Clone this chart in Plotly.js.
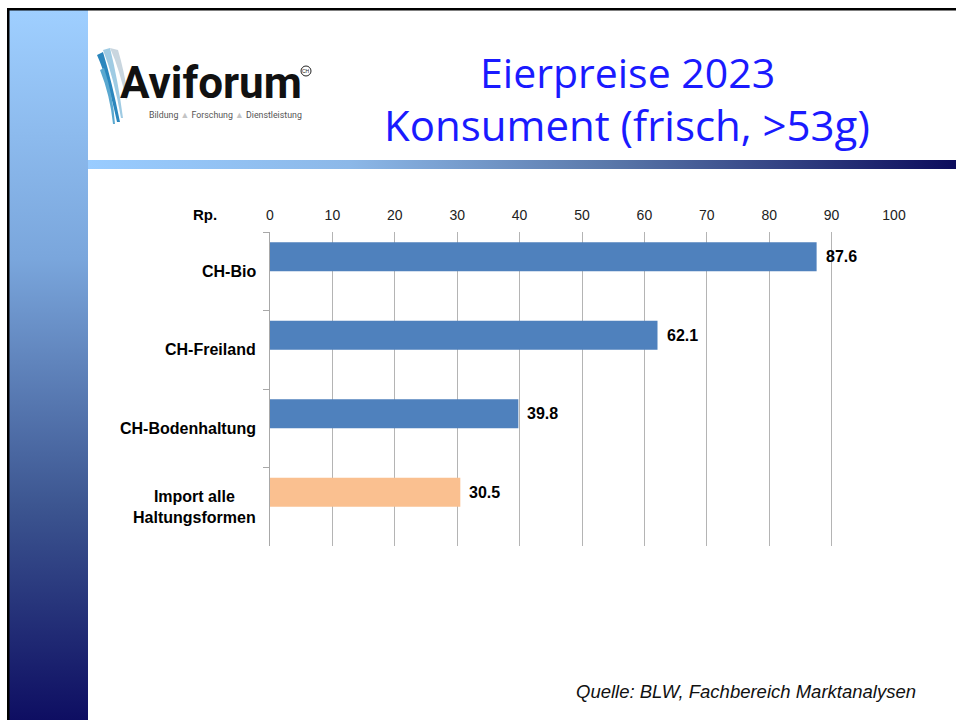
<!DOCTYPE html>
<html>
<head>
<meta charset="utf-8">
<script src="https://cdn.plot.ly/plotly-3.0.1.min.js"></script>
<style>
html,body{margin:0;padding:0;background:#fff;}
#chart{width:956px;height:720px;}
</style>
</head>
<body>
<div id="chart"></div>
<script>
// ---- data ----
const categories = ["CH-Bio", "CH-Freiland", "CH-Bodenhaltung", "Import alle Haltungsformen"];
const categoryLabels = ["CH-Bio", "CH-Freiland", "CH-Bodenhaltung", "Import alle<br>Haltungsformen"];
const prices = [87.6, 62.1, 39.8, 30.5];
const barColors = ["#4f81bd", "#4f81bd", "#4f81bd", "#fac090"];
const xTickVals = [0, 10, 20, 30, 40, 50, 60, 70, 80, 90, 100];
const titleLines = ["Eierpreise 2023", "Konsument (frisch, >53g)"];
const unitLabel = "Rp.";
const sourceText = "Quelle: BLW, Fachbereich Marktanalysen";

// ---- pixel helpers (plot area 270..894 x 232..546) ----
const L = 270, R = 894, T = 232, B = 546;
const px = x => (x - L) / (R - L);
const py = y => (B - y) / (B - T);
const pw = w => w / (R - L);
const ph = h => h / (B - T);

function svgURI(svg){ return 'data:image/svg+xml;utf8,' + encodeURIComponent(svg); }
const vGrad = svgURI('<svg xmlns="http://www.w3.org/2000/svg" width="79" height="710" preserveAspectRatio="none"><defs><linearGradient id="g" x1="0" y1="0" x2="0" y2="1"><stop offset="0" stop-color="#9fcfff"/><stop offset="0.35" stop-color="#7aa6dc"/><stop offset="0.7" stop-color="#3c5590"/><stop offset="1" stop-color="#0e0e62"/></linearGradient></defs><rect width="79" height="710" fill="url(#g)"/></svg>');
const hGrad = svgURI('<svg xmlns="http://www.w3.org/2000/svg" width="868" height="9" preserveAspectRatio="none"><defs><linearGradient id="h" x1="0" y1="0" x2="1" y2="0"><stop offset="0" stop-color="#99ccff"/><stop offset="0.3" stop-color="#8cb8e8"/><stop offset="0.6" stop-color="#5a78aa"/><stop offset="1" stop-color="#0c0c5c"/></linearGradient></defs><rect width="868" height="9" fill="url(#h)"/></svg>');

const images = [
  {source: vGrad, xref:'paper', yref:'paper', x: px(9), y: py(10), sizex: pw(79), sizey: ph(710), sizing:'stretch', xanchor:'left', yanchor:'top', layer:'below'},
  {source: hGrad, xref:'paper', yref:'paper', x: px(88), y: py(160), sizex: pw(868), sizey: ph(9), sizing:'stretch', xanchor:'left', yanchor:'top', layer:'below'}
];

const shapes = [
  // black frame top + left
  {type:'rect', xref:'paper', yref:'paper', x0: px(7), x1: px(956), y0: py(8), y1: py(10.5), fillcolor:'#000', line:{width:0}, layer:'below'},
  {type:'rect', xref:'paper', yref:'paper', x0: px(7), x1: px(9.5), y0: py(8), y1: py(720), fillcolor:'#000', line:{width:0}, layer:'below'},
  // logo streaks
  {type:'path', xref:'paper', yref:'paper', path:`M ${px(97)} ${py(55)} Q ${px(108)} ${py(80)} ${px(117)} ${py(122)} L ${px(120)} ${py(122)} Q ${px(112)} ${py(82)} ${px(103)} ${py(52)} Z`, fillcolor:'#2a86bd', line:{width:0}},
  {type:'path', xref:'paper', yref:'paper', path:`M ${px(103)} ${py(50)} Q ${px(114)} ${py(78)} ${px(121)} ${py(118)} L ${px(123)} ${py(118)} Q ${px(118)} ${py(80)} ${px(110)} ${py(48)} Z`, fillcolor:'#9fcbe3', line:{width:0}},
  {type:'path', xref:'paper', yref:'paper', path:`M ${px(110)} ${py(48)} Q ${px(120)} ${py(70)} ${px(126)} ${py(100)} L ${px(128)} ${py(96)} Q ${px(124)} ${py(70)} ${px(118)} ${py(50)} Z`, fillcolor:'#c9d6df', line:{width:0}},
  {type:'path', xref:'paper', yref:'paper', path:`M ${px(100)} ${py(70)} Q ${px(110)} ${py(95)} ${px(113)} ${py(124)} L ${px(115)} ${py(124)} Q ${px(113)} ${py(95)} ${px(104)} ${py(68)} Z`, fillcolor:'#5aa8d0', line:{width:0}},
  // CH circle
  {type:'circle', xref:'paper', yref:'paper', x0: px(301), x1: px(311), y0: py(66), y1: py(76), line:{color:'#222', width:1}}
];

const annotations = [
  {text: titleLines[0], xref:'paper', yref:'paper', x: px(627), y: py(72), xanchor:'center', yanchor:'middle', showarrow:false, font:{family:'Open Sans, DejaVu Sans, sans-serif', size:41, color:'#1a1aff'}},
  {text: titleLines[1], xref:'paper', yref:'paper', x: px(627), y: py(125), xanchor:'center', yanchor:'middle', showarrow:false, font:{family:'Open Sans, DejaVu Sans, sans-serif', size:42, color:'#1a1aff'}},
  {text: 'Aviforum', xref:'paper', yref:'paper', x: px(118), y: py(83), xanchor:'left', yanchor:'middle', height:42, valign:'middle', showarrow:false, font:{family:'Roboto, Liberation Sans, Arial, sans-serif', size:44, weight:700, color:'#111'}},
  {text: 'CH', xref:'paper', yref:'paper', x: px(306), y: py(71), xanchor:'center', yanchor:'middle', height:8, showarrow:false, font:{family:'Liberation Sans, Arial, sans-serif', size:5, color:'#222'}},
  {text: 'Bildung <span style="color:#c4c4c4">▲</span> Forschung <span style="color:#c4c4c4">▲</span> Dienstleistung', xref:'paper', yref:'paper', x: px(147), y: py(114), xanchor:'left', yanchor:'middle', height:11, showarrow:false, font:{family:'Roboto, Liberation Sans, Arial, sans-serif', size:8.8, color:'#555'}},
  {text: '<b>' + unitLabel + '</b>', xref:'paper', yref:'paper', x: px(205), y: py(214), xanchor:'center', yanchor:'middle', showarrow:false, font:{family:'Liberation Sans, Arial, sans-serif', size:15, color:'#000'}},
  {text: '<i>' + sourceText + '</i>', xref:'paper', yref:'paper', x: px(918), y: py(691), xanchor:'right', yanchor:'middle', showarrow:false, font:{family:'Liberation Sans, Arial, sans-serif', size:18.5, color:'#111'}}
];
categories.forEach((c, i) => {
  annotations.push({text: '<b>' + categoryLabels[i] + '</b>', xref:'paper', yref:'y', x: 0, xshift: -12, y: c, xanchor:'right', yanchor:'middle', align:'center', showarrow:false, font:{family:'Liberation Sans, Arial, sans-serif', size:16, color:'#000'}});
  // value labels, centered on the (upper-offset) bar
  annotations.push({text: '<b>' + prices[i].toFixed(1) + '</b>', xref:'x', yref:'y', x: prices[i], y: i - 0.185, xshift: 7, xanchor:'left', yanchor:'middle', showarrow:false, font:{family:'Liberation Sans, Arial, sans-serif', size:16, color:'#000'}});
});

const trace = {
  type:'bar', orientation:'h',
  y: categories, x: prices,
  width: 0.37, offset: -0.37,
  marker:{color: barColors, line:{width:0}},
  cliponaxis:false,
  hoverinfo:'skip'
};

const layout = {
  width:956, height:720,
  margin:{l:L, r:956-R, t:T, b:720-B, pad:0},
  paper_bgcolor:'#fff', plot_bgcolor:'rgba(0,0,0,0)',
  showlegend:false,
  xaxis:{side:'top', range:[0,100], tickvals:xTickVals, showgrid:true, gridcolor:'#b4b4b4', gridwidth:1, zeroline:false, showline:false, ticks:'', ticklabelstandoff:8, tickfont:{family:'Liberation Sans, Arial, sans-serif', size:14, color:'#222'}, fixedrange:true},
  yaxis:{type:'category', categoryorder:'array', categoryarray:categories, autorange:'reversed', showticklabels:false, tickson:'boundaries', ticks:'outside', ticklen:6, tickcolor:'#a8a8a8', showline:true, linecolor:'#a8a8a8', linewidth:1, showgrid:false, zeroline:false, fixedrange:true},
  images: images, shapes: shapes, annotations: annotations,
  font:{family:'Liberation Sans, Arial, sans-serif'}
};

Plotly.newPlot('chart', [trace], layout, {staticPlot:true, displayModeBar:false});
</script>
</body>
</html>
